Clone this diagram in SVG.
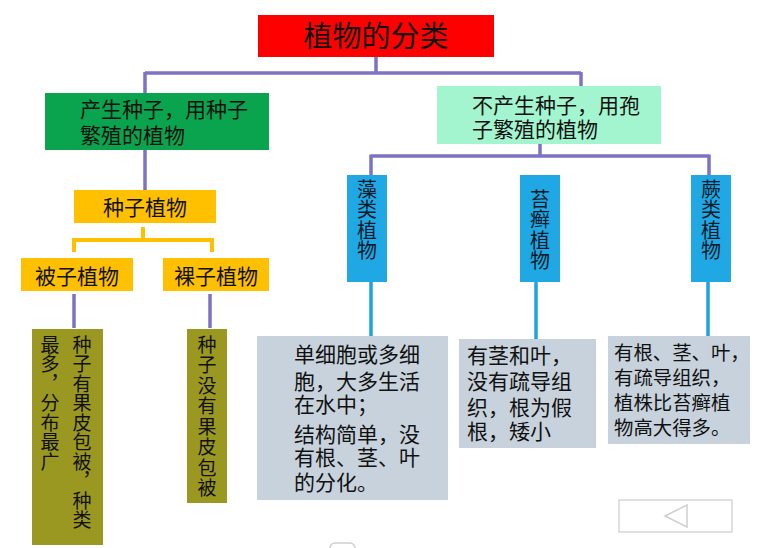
<svg xmlns="http://www.w3.org/2000/svg" width="760" height="548" viewBox="0 0 760 548">
<style>
text{font-family:"Noto Sans CJK SC","Noto Sans CJK TC",sans-serif;fill:#111;}
.h{font-size:21px;}
.v{font-size:19px;writing-mode:vertical-rl;text-orientation:upright;}
.vb{font-size:20px;writing-mode:vertical-rl;text-orientation:upright;fill:#0d1a2a;}
.pur{stroke:#7d72c4;stroke-width:3.5;fill:none;}
.org{stroke:#ffc000;stroke-width:4;fill:none;}
.blu{stroke:#1fa3dd;stroke-width:3.5;fill:none;}
.gray{fill:#c7d2dc;}
.olive{fill:#9b9822;}
.orange{fill:#ffc000;}
.blue{fill:#1fa8e3;}
</style>
<rect width="760" height="548" fill="#fff"/>
<g id="connectors">
<path class="pur" d="M376 57V73M145 73H581M145 72V93M581 72V86"/>
<path class="pur" d="M145 150V190"/>
<path class="org" d="M143 227V240M74 252V240H212V252"/>
<path class="pur" d="M74 294V328M210 294V328"/>
<path class="pur" d="M540 144V156M371 156H709M371 154.5V175M709 154.5V175"/>
<path class="blu" d="M371 282V336M536 282V339M708 282V336"/>
</g>
<g id="title">
<rect x="258" y="15" width="236" height="42" fill="#ff0000"/>
<text x="376" y="47" font-size="29" text-anchor="middle">植物的分类</text>
</g>
<g id="seed">
<rect x="45" y="93" width="224" height="57" fill="#0aa44e"/>
<text class="h"><tspan x="80" y="117">产生种子，用种子</tspan><tspan x="80" y="143">繁殖的植物</tspan></text>
</g>
<g id="spore">
<rect x="437" y="86" width="224" height="58" fill="#a3f5cf"/>
<text class="h"><tspan x="472" y="113">不产生种子，用孢</tspan><tspan x="472" y="137">子繁殖的植物</tspan></text>
</g>
<g id="seed-plants">
<rect class="orange" x="74" y="190" width="142" height="33"/>
<text class="h" x="145" y="215" text-anchor="middle">种子植物</text>
</g>
<g id="angiosperms">
<rect class="orange" x="21" y="258" width="112" height="33"/>
<text class="h" x="77" y="284" text-anchor="middle">被子植物</text>
</g>
<g id="gymnosperms">
<rect class="orange" x="163" y="258" width="106" height="33"/>
<text class="h" x="216" y="284" text-anchor="middle">裸子植物</text>
</g>
<g id="angio-desc">
<rect class="olive" x="32" y="329" width="71" height="216"/>
<text class="v" x="82" y="335" letter-spacing="0.5">种子有果皮包被，种类</text>
<text class="v" x="50" y="335" letter-spacing="0.5">最多，分布最广</text>
</g>
<g id="gymno-desc">
<rect class="olive" x="187" y="329" width="40" height="174"/>
<text class="v" x="207" y="335" letter-spacing="1.5">种子没有果皮包被</text>
</g>
<g id="algae">
<rect class="blue" x="347" y="175" width="40" height="107"/>
<text class="vb" x="367" y="179" letter-spacing="0.5">藻类植物</text>
</g>
<g id="moss">
<rect class="blue" x="520" y="175" width="40" height="107"/>
<text class="vb" x="540" y="189" letter-spacing="0.5">苔癣植物</text>
</g>
<g id="fern">
<rect class="blue" x="691" y="175" width="40" height="107"/>
<text class="vb" x="711" y="179" letter-spacing="0.5">蕨类植物</text>
</g>
<g id="algae-desc">
<rect class="gray" x="257" y="336" width="191" height="164"/>
<text class="h"><tspan x="294" y="362">单细胞或多细</tspan><tspan x="294" y="389">胞，大多生活</tspan><tspan x="294" y="412">在水中；</tspan><tspan x="294" y="442">结构简单，没</tspan><tspan x="294" y="465">有根、茎、叶</tspan><tspan x="294" y="490">的分化。</tspan></text>
</g>
<g id="moss-desc">
<rect class="gray" x="459" y="339" width="137" height="109"/>
<text class="h" font-size="20"><tspan x="467" y="363">有茎和叶，</tspan><tspan x="467" y="389">没有疏导组</tspan><tspan x="467" y="415">织，根为假</tspan><tspan x="467" y="439">根，矮小</tspan></text>
</g>
<g id="fern-desc">
<rect class="gray" x="608" y="336" width="142" height="108"/>
<text class="h" style="font-size:19.4px"><tspan x="614" y="360">有根、茎、叶，</tspan><tspan x="614" y="385">有疏导组织，</tspan><tspan x="614" y="410">植株比苔癣植</tspan><tspan x="614" y="435">物高大得多。</tspan></text>
</g>
<g id="nav">
<rect x="619" y="500" width="113" height="32" fill="none" stroke="#d6d6d6" stroke-width="1.5"/>
<path d="M665 516L687 505V527Z" fill="none" stroke="#cfcfcf" stroke-width="1.5"/>
<rect x="330" y="543" width="25" height="14" rx="5" fill="none" stroke="#cfcfcf" stroke-width="1.5"/>
</g>
</svg>
